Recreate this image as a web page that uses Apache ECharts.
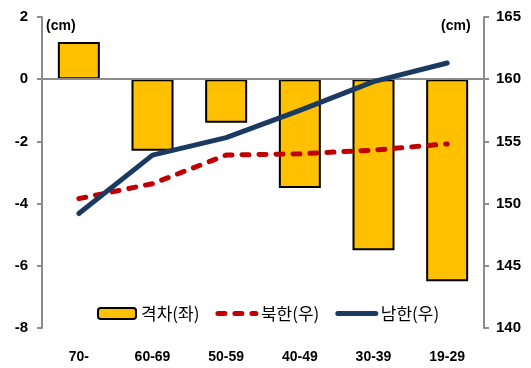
<!DOCTYPE html>
<html>
<head>
<meta charset="utf-8">
<script src="https://cdn.jsdelivr.net/npm/echarts@6/dist/echarts.min.js"></script>
<style>
  html, body { margin: 0; padding: 0; background: #fff; }
  #chart { width: 531px; height: 368px; }
</style>
</head>
<body>
<div id="chart"></div>
<script>
// Age groups on the category axis
const categories = ['70-', '60-69', '50-59', '40-49', '30-39', '19-29'];
// Height gap, North minus South (cm, left axis)
const gapValues = [1.2, -2.3, -1.4, -3.5, -5.5, -6.5];
// Average height, North Korea (cm, right axis)
const northValues = [150.4, 151.6, 153.9, 154.0, 154.3, 154.8];
// Average height, South Korea (cm, right axis)
const southValues = [149.2, 153.9, 155.3, 157.5, 159.8, 161.3];
// Tick ranges
const leftTicks = { min: -8, max: 2, interval: 2 };
const rightTicks = { min: 140, max: 165, interval: 5 };
const seriesNames = ['격차(좌)', '북한(우)', '남한(우)'];

const numFont = 'Liberation Sans';
const chart = echarts.init(document.getElementById('chart'), null, { renderer: 'canvas' });

const axisGray = '#8c8c8c';
const northStyle = { color: '#C00000', width: 5, type: [7, 10], cap: 'round', join: 'round' };
const southStyle = { color: '#1B3A61', width: 5, cap: 'round', join: 'round' };

chart.setOption({
  animation: false,
  backgroundColor: '#ffffff',
  grid: { left: 42, right: 47, top: 17, bottom: 40 },
  legend: {
    left: 92,
    top: 300,
    itemWidth: 38,
    itemHeight: 11,
    itemGap: 16,
    textStyle: { fontFamily: 'Noto Sans CJK KR', fontSize: 17, color: '#000' },
    data: [
      { name: seriesNames[0] },
      { name: seriesNames[1], itemStyle: { opacity: 0 }, lineStyle: northStyle },
      { name: seriesNames[2], itemStyle: { opacity: 0 }, lineStyle: southStyle }
    ]
  },
  graphic: [
    { type: 'text', left: 46, top: 19, style: { text: '(cm)', fontFamily: numFont, fontSize: 14, fontWeight: 'bold', fill: '#000' } },
    { type: 'text', left: 441, top: 19, style: { text: '(cm)', fontFamily: numFont, fontSize: 14, fontWeight: 'bold', fill: '#000' } }
  ],
  xAxis: {
    type: 'category',
    data: categories,
    axisLine: { show: false, onZero: false },
    axisTick: { show: false },
    axisLabel: { margin: 22, fontFamily: numFont, fontSize: 14, fontWeight: 'bold', color: '#000' }
  },
  yAxis: [
    {
      type: 'value',
      min: leftTicks.min, max: leftTicks.max, interval: leftTicks.interval,
      position: 'left',
      axisLine: { show: true, onZero: false, lineStyle: { color: axisGray, width: 2 } },
      axisTick: { show: true, length: 5, lineStyle: { color: axisGray, width: 2 } },
      splitLine: { show: false },
      axisLabel: { margin: 14, fontFamily: numFont, fontSize: 15, fontWeight: 'bold', color: '#000' }
    },
    {
      type: 'value',
      min: rightTicks.min, max: rightTicks.max, interval: rightTicks.interval,
      position: 'right',
      axisLine: { show: true, onZero: false, lineStyle: { color: axisGray, width: 2 } },
      axisTick: { show: true, length: 5, lineStyle: { color: axisGray, width: 2 } },
      splitLine: { show: false },
      axisLabel: { margin: 12, fontFamily: numFont, fontSize: 15, fontWeight: 'bold', color: '#000' }
    }
  ],
  series: [
    {
      name: seriesNames[0],
      type: 'bar',
      yAxisIndex: 0,
      data: gapValues,
      barWidth: 42,
      itemStyle: { color: '#FFC000', borderColor: '#000', borderWidth: 2 },
      markLine: {
        silent: true,
        symbol: 'none',
        label: { show: false },
        lineStyle: { color: axisGray, width: 2, type: 'solid' },
        data: [{ yAxis: 0 }],
        z: 5
      }
    },
    {
      name: seriesNames[1],
      type: 'line',
      yAxisIndex: 1,
      data: northValues,
      symbol: 'none',
      lineStyle: northStyle,
      itemStyle: { color: '#C00000' },
      z: 6
    },
    {
      name: seriesNames[2],
      type: 'line',
      yAxisIndex: 1,
      data: southValues,
      symbol: 'none',
      lineStyle: southStyle,
      itemStyle: { color: '#1B3A61' },
      z: 7
    }
  ]
});
</script>
</body>
</html>
